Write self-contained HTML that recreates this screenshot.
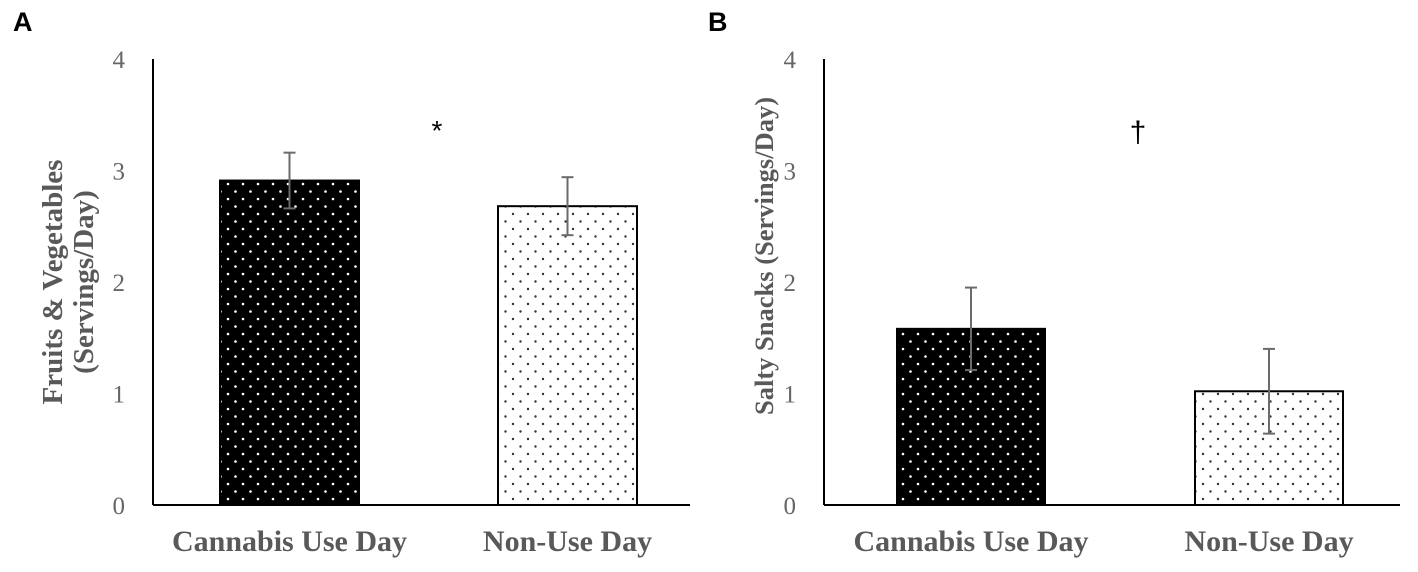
<!DOCTYPE html>
<html><head><meta charset="utf-8"><style>
html,body{margin:0;padding:0;background:#fff;}
svg{display:block;}
</style></head><body>
<svg id="chart" width="1418" height="572" xmlns="http://www.w3.org/2000/svg">
<defs>
<pattern id="darkDots" width="15" height="15" patternUnits="userSpaceOnUse">
<rect width="15" height="15" fill="#000"/>
<circle cx="3" cy="4" r="1.3" fill="#fff"/>
<circle cx="10.5" cy="11.5" r="1.3" fill="#fff"/>
</pattern>
<pattern id="lightDots" width="15" height="15" patternUnits="userSpaceOnUse">
<rect width="15" height="15" fill="#fff"/>
<circle cx="3" cy="4" r="1.2" fill="#333"/>
<circle cx="10.5" cy="11.5" r="1.2" fill="#333"/>
</pattern>
</defs>
<g id="root"></g>
</svg>
<script>
const categories = ["Cannabis Use Day", "Non-Use Day"];
const fruitValues = [2.91, 2.68];
const fruitErrors = [0.25, 0.26];
const snackValues = [1.58, 1.02];
const snackErrors = [0.37, 0.38];
const yTicks = [0, 1, 2, 3, 4];

const NS = "http://www.w3.org/2000/svg";
const root = document.getElementById("root");
function mk(tag, attrs, parent, text) {
  const e = document.createElementNS(NS, tag);
  for (const k in attrs) e.setAttribute(k, attrs[k]);
  if (text !== undefined) e.textContent = text;
  (parent || root).appendChild(e);
  return e;
}
const y0 = 505, yTop = 59;
function yScale(v) { return y0 - (y0 - yTop) * v / 4; }

function panel(cfg) {
  const g = mk("g", {});
  
  
  const lbl = mk("text", {x: cfg.letterX, y: 31, "font-family": "Liberation Sans, sans-serif", "font-weight": "bold", "font-size": 27, fill: "#000"}, g, cfg.letter);
  
  
  const ax = mk("line", {x1: cfg.axisX, y1: yTop, x2: cfg.axisX, y2: y0, stroke: "#000", "stroke-width": 2}, g);
  
  
  const bx = mk("line", {x1: cfg.axisX, y1: y0, x2: cfg.axisEnd, y2: y0, stroke: "#000", "stroke-width": 2}, g);
  
  
  yTicks.forEach(t => {
    const tl = mk("text", {x: cfg.axisX - 28, y: yScale(t) + 9, "text-anchor": "end", "font-family": "Liberation Serif, serif", "font-size": 25, fill: "#666"}, g, String(t));
    
    
  });
  const yt = mk("text", {transform: `translate(${cfg.titleX},${cfg.titleY}) rotate(-90)`, "text-anchor": "middle", "font-family": "Liberation Serif, serif", "font-weight": "bold", "font-size": cfg.titleSize, fill: "#595959"}, g);
  
  
  cfg.title.forEach((line, i) => mk("tspan", {x: 0, dy: i === 0 ? 0 : 31}, yt, line));
  categories.forEach((c, i) => {
    const x = cfg.barX[i], w = cfg.barW, v = cfg.values[i], e = cfg.errors[i];
    const b = mk("rect", {x: x, y: yScale(v), width: w, height: y0 - yScale(v), fill: i === 0 ? "url(#darkDots)" : "url(#lightDots)", stroke: "#000", "stroke-width": 2}, g);
    
    
    const cx = x + w / 2;
    const eg = mk("g", {stroke: "#6b6b6b", "stroke-width": 2}, g);
    
    
    mk("line", {x1: cx, y1: yScale(v + e), x2: cx, y2: yScale(v - e)}, eg);
    mk("line", {x1: cx - 6, y1: yScale(v + e), x2: cx + 6, y2: yScale(v + e)}, eg);
    mk("line", {x1: cx - 6, y1: yScale(v - e), x2: cx + 6, y2: yScale(v - e)}, eg);
    const xl = mk("text", {x: cx, y: 551, "text-anchor": "middle", "font-family": "Liberation Serif, serif", "font-weight": "bold", "font-size": 30, fill: "#595959"}, g, c);
    
    
  });
  const s = mk("text", {x: cfg.sigX, y: cfg.sigY, "text-anchor": "middle", "font-family": "Liberation Sans, sans-serif", "font-size": cfg.sigSize, fill: "#000"}, g, cfg.sig);
  
  
}

panel({name: "panel-a-fruits-vegetables", letter: "A", letterX: 13, axisX: 153, axisEnd: 690, titleX: 62, titleY: 282, titleSize: 29,
  title: ["Fruits & Vegetables", "(Servings/Day)"], barX: [220, 498], barW: 139, values: fruitValues, errors: fruitErrors,
  sig: "*", sigX: 437, sigY: 140, sigSize: 28});
panel({name: "panel-b-salty-snacks", letter: "B", letterX: 708, axisX: 824, axisEnd: 1400, titleX: 773, titleY: 256, titleSize: 26.5,
  title: ["Salty Snacks (Servings/Day)"], barX: [897, 1195], barW: 148, values: snackValues, errors: snackErrors,
  sig: "†", sigX: 1138, sigY: 142, sigSize: 30});
</script>
</body></html>
